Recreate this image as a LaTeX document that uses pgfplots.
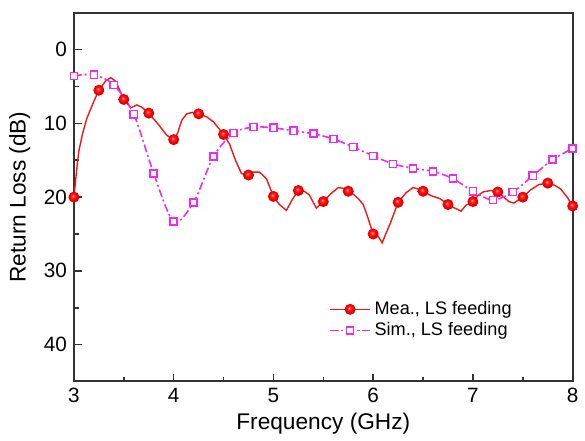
\documentclass[border=0pt]{standalone}
\usepackage{fontspec}
\setmainfont{Liberation Sans}
\usepackage{pgfplots}
\pgfplotsset{compat=1.18}
\definecolor{meared}{RGB}{240,20,20}
\definecolor{simmag}{RGB}{240,40,240}
\pgfdeclareradialshading{rballshade}{\pgfpoint{-5bp}{6bp}}{%
  color(0bp)=(red!25!white); color(7bp)=(red!85!white); color(16bp)=(red);
  color(25bp)=(red!80!black); color(50bp)=(red!70!black)}
\pgfdeclareplotmark{rball}{%
  \pgfpathcircle{\pgfpointorigin}{\pgfplotmarksize}%
  \pgfshadepath{rballshade}{0}\pgfusepath{}}
\begin{document}
\begin{tikzpicture}
\begin{axis}[name=ax, scale only axis, width=253pt, height=187pt,
  xmin=3, xmax=8, ymin=-5, ymax=45, y dir=reverse,
  xtick={3,4,5,6,7,8}, ytick={0,10,20,30,40},
  minor xtick={3.5,4.5,5.5,6.5,7.5}, minor ytick={5,15,25,35},
  tick align=inside, xtick pos=bottom, ytick pos=left,
  major tick length=4pt, minor tick length=2.5pt,
  axis line style={draw=black!80, line width=1pt},
  every tick/.style={black!80, line width=0.8pt},
  ticklabel style={font=\fontsize{10.5}{12}\selectfont},
  /pgf/number format/assume math mode=true,
  xlabel={Frequency (GHz)}, ylabel={Return Loss (dB)},
  label style={font=\fontsize{11.5}{13}\selectfont},
  xlabel style={yshift=2pt},
  legend style={draw=none, fill=none, at={(0.5,0.24)}, anchor=north west,
    font=\fontsize{9.2}{11}\selectfont, row sep=-1.5pt},
  legend image code/.code={\draw[mark repeat=2,mark phase=2,#1] plot coordinates {(0pt,0pt) (10pt,0pt) (20pt,0pt)};},
  legend cell align=left,
]
\addplot[meared, line width=0.7pt, legend image post style={mark=rball, mark size=2.8pt}] coordinates {
(3.00,20.0) (3.03,16.0) (3.05,13.7) (3.09,11.2) (3.13,9.3) (3.2,7.0) (3.25,5.5) (3.32,4.2) (3.37,3.8) (3.42,4.3)
(3.5,6.75) (3.57,7.9) (3.63,7.5) (3.68,7.8) (3.75,8.6) (3.85,10.2) (3.93,11.6) (4.0,12.2)
(4.04,11.3) (4.08,9.6) (4.13,8.7) (4.19,8.5) (4.25,8.7) (4.33,9.1) (4.4,9.8) (4.5,11.5)
(4.56,12.8) (4.62,15.0) (4.68,16.8) (4.75,17.0) (4.8,16.6) (4.86,16.6) (4.93,17.5)
(5.0,19.9) (5.06,21.0) (5.13,21.8) (5.19,20.3) (5.25,19.1) (5.31,19.2) (5.36,19.7) (5.43,21.5)
(5.5,20.6) (5.57,19.6) (5.65,18.7) (5.7,18.8) (5.75,19.2) (5.8,19.6) (5.85,20.2) (5.9,21.0)
(5.94,22.5) (6.0,25.0) (6.05,25.3) (6.09,26.2) (6.12,25.2) (6.17,23.6) (6.25,20.7) (6.33,19.4)
(6.4,18.7) (6.45,18.9) (6.5,19.2) (6.58,19.8) (6.67,20.2) (6.75,21.0) (6.82,21.5) (6.88,21.9)
(6.93,21.1) (7.0,20.6) (7.05,19.8) (7.1,19.3) (7.18,19.1) (7.25,19.3) (7.3,19.9) (7.36,20.6)
(7.41,20.8) (7.5,20.0) (7.58,19.0) (7.66,18.3) (7.75,18.1) (7.82,18.4) (7.88,18.9) (7.95,20.1) (8.0,21.2)
};
\addlegendentry{Mea., LS feeding}
\addplot[forget plot, only marks, mark=rball, mark size=2.8pt] coordinates {
(3.0,20.0) (3.25,5.5) (3.5,6.75) (3.75,8.6) (4.0,12.2) (4.25,8.7) (4.5,11.5) (4.75,17.0)
(5.0,19.9) (5.25,19.1) (5.5,20.6) (5.75,19.2) (6.0,25.0) (6.25,20.7) (6.5,19.2) (6.75,21.0)
(7.0,20.6) (7.25,19.3) (7.5,20.0) (7.75,18.1) (8.0,21.2)
};
\addplot[simmag, line width=0.8pt, smooth, tension=0.5,
  dash pattern=on 4pt off 1.5pt on 1pt off 1.5pt,
  mark=square*, mark size=1.8pt, mark options={solid, fill=white, draw=simmag, line width=0.8pt}] coordinates {
(3.0,3.55) (3.2,3.4) (3.4,4.8) (3.6,8.75) (3.8,16.8) (4.0,23.3) (4.2,20.7) (4.4,14.5)
(4.6,11.3) (4.8,10.5) (5.0,10.6) (5.2,11.0) (5.4,11.4) (5.6,12.1) (5.8,13.2) (6.0,14.4)
(6.2,15.5) (6.4,16.1) (6.6,16.5) (6.8,17.5) (7.0,19.2) (7.2,20.4) (7.4,19.3) (7.6,17.1)
(7.8,14.9) (8.0,13.4)
};
\addlegendentry{Sim., LS feeding}
\end{axis}
\path (ax.south west) ++(-37.5pt,-29pt);
\path (ax.north east) ++(2pt,6.5pt);
\end{tikzpicture}
\end{document}
